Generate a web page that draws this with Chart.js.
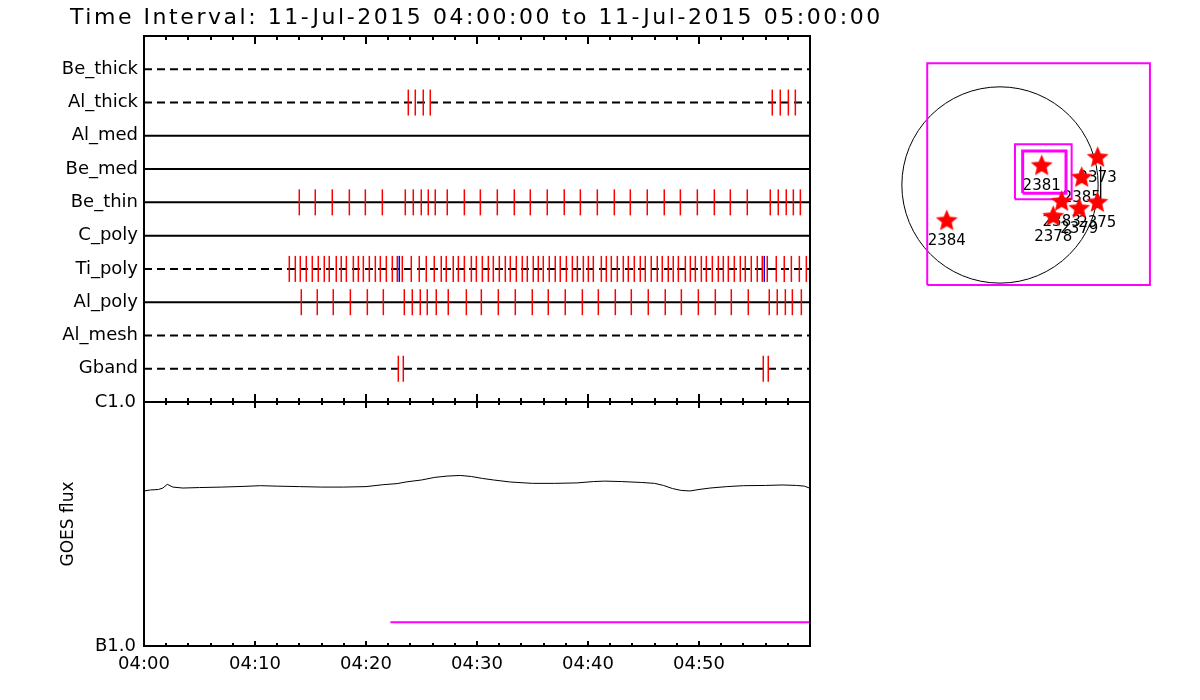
<!DOCTYPE html>
<html>
<head>
<meta charset="utf-8">
<title>Time Interval: 11-Jul-2015 04:00:00 to 11-Jul-2015 05:00:00</title>
<script src="https://cdn.jsdelivr.net/npm/chart.js@4.4.1/dist/chart.umd.min.js"></script>
<style>
  html, body { margin: 0; padding: 0; background: #fff; }
  #wrap { position: relative; width: 1200px; height: 700px; overflow: hidden; background: #fff; }
  canvas { position: absolute; }
  #panelRows { left: 0; top: 0; }
  #panelGoes { left: 0; top: 380px; }
  #panelMap { left: 890px; top: 50px; }
</style>
</head>
<body>
<div id="wrap">
  <canvas id="panelRows" width="900" height="410"></canvas>
  <canvas id="panelGoes" width="830" height="320"></canvas>
  <canvas id="panelMap" width="280" height="250"></canvas>
</div>
<script>
const titleText = 'Time Interval: 11-Jul-2015 04:00:00 to 11-Jul-2015 05:00:00';
const rowNames = ['Be_thick', 'Al_thick', 'Al_med', 'Be_med', 'Be_thin', 'C_poly', 'Ti_poly', 'Al_poly', 'Al_mesh', 'Gband'];

// event times, minutes after 04:00
const alThickTimes = [23.81, 24.44, 25.16, 25.79, 56.60, 57.32, 58.05, 58.68];
const beThinTimes = [13.99, 15.43, 16.96, 18.50, 19.94, 21.47, 23.54, 24.26, 24.98, 25.61, 26.24, 27.32,
  28.86, 30.30, 31.83, 33.36, 34.80, 36.33, 37.86, 39.31, 40.84, 42.37, 43.81, 45.34, 46.87, 48.32,
  49.85, 51.38, 52.82, 54.35, 56.42, 57.14, 57.86, 58.50, 59.13];
const tiPolyTimes = [13.09, 13.63, 14.08, 14.62, 15.16, 15.70, 16.24, 16.69, 17.32, 17.77, 18.23, 18.86,
  19.31, 19.76, 20.30, 20.84, 21.29, 21.83, 22.37, 22.82, 23.27, 24.08, 24.80, 25.43, 26.15, 26.78,
  27.23, 27.86, 28.32, 28.86, 29.49, 29.94, 30.48, 31.02, 31.47, 32.01, 32.55, 33.00, 33.54, 34.08,
  34.53, 35.07, 35.52, 35.97, 36.51, 37.05, 37.50, 38.05, 38.59, 39.04, 39.58, 40.03, 40.48, 41.20,
  41.65, 42.10, 42.64, 43.18, 43.63, 44.17, 44.71, 45.16, 45.70, 46.24, 46.69, 47.23, 47.68, 48.14,
  48.77, 49.22, 49.67, 50.21, 50.66, 51.20, 51.74, 52.19, 52.64, 53.18, 53.72, 54.17, 54.71, 55.25,
  55.70, 56.15, 56.96, 57.68, 58.32, 59.04, 59.67];
const tiPolyBlueTimes = [23.00, 55.88];
const alPolyTimes = [14.17, 15.61, 17.05, 18.59, 20.12, 21.56, 23.45, 24.17, 24.89, 25.52, 26.33, 27.41,
  29.04, 30.39, 31.92, 33.45, 34.98, 36.42, 37.95, 39.49, 40.93, 42.46, 43.90, 45.43, 46.96, 48.41,
  49.94, 51.47, 52.91, 54.44, 56.33, 57.05, 57.78, 58.41, 59.22];
const gbandTimes = [22.91, 23.36, 55.79, 56.24];

// GOES flux (W/m^2)
const goesMinutes = [0, 0.6, 1.3, 1.7, 2.1, 2.6, 3.5, 5, 7, 9, 10.5, 12, 14, 16, 18, 20, 21.5, 22.8,
  23.7, 25, 26.2, 27.3, 28.5, 29.5, 30.5, 31.5, 33, 35, 37, 39, 40.5, 41.5, 43, 44.8, 46, 46.8, 47.6,
  48.4, 49.2, 50, 51, 52.5, 54, 56, 57.5, 58.8, 59.5, 60];
const goesFlux = [4.32e-7, 4.36e-7, 4.38e-7, 4.44e-7, 4.60e-7, 4.48e-7, 4.44e-7, 4.46e-7, 4.48e-7,
  4.51e-7, 4.54e-7, 4.52e-7, 4.50e-7, 4.48e-7, 4.48e-7, 4.50e-7, 4.58e-7, 4.63e-7, 4.71e-7, 4.79e-7,
  4.91e-7, 4.97e-7, 5.00e-7, 4.95e-7, 4.86e-7, 4.79e-7, 4.70e-7, 4.64e-7, 4.64e-7, 4.66e-7, 4.72e-7,
  4.74e-7, 4.72e-7, 4.68e-7, 4.64e-7, 4.55e-7, 4.42e-7, 4.34e-7, 4.32e-7, 4.38e-7, 4.44e-7, 4.50e-7,
  4.54e-7, 4.55e-7, 4.57e-7, 4.55e-7, 4.52e-7, 4.43e-7];
const barMinutes = [22.2, 60];
const barFlux = [1.25e-7, 1.25e-7];

// active regions, arcsec from disk centre
const arNames = ['2381', '2373', '2385', '2375', '2379', '2383', '2378', '2384'];
const arX = [401, 939, 786, 936, 762, 593, 512, -512];
const arY = [183, 262, 70, -170, -228, -161, -305, -346];
const sunRadius = 944;
const fovOuter = [-700, -962, 1442, 1170];
const fovMid = [144, -138, 689, 391];
const fovInner = [218, -80, 635, 327];
const markX = [968, 968];
const markY = [177, -176];

Chart.defaults.font.family = "'DejaVu Sans'";
Chart.defaults.color = '#000';

const dashedRows = ['Be_thick', 'Al_thick', 'Ti_poly', 'Al_mesh', 'Gband'];
const rowOf = name => rowNames.indexOf(name) + 1;

function eventMarks(times, name, color) {
  return {
    data: times.map(t => ({x: t, y: rowOf(name)})),
    pointStyle: 'line',
    pointRotation: 90,
    pointRadius: 13,
    pointBorderColor: color,
    pointBackgroundColor: color,
    pointBorderWidth: 1.5
  };
}

function boxPath(b) {
  return [{x: b[0], y: b[1]}, {x: b[2], y: b[1]}, {x: b[2], y: b[3]}, {x: b[0], y: b[3]}, {x: b[0], y: b[1]}];
}

function starImage(r, color) {
  const c = document.createElement('canvas');
  const s = Math.ceil(r * 2 + 2);
  c.width = c.height = s;
  const g = c.getContext('2d');
  g.fillStyle = color;
  g.beginPath();
  for (let k = 0; k < 10; k++) {
    const rr = k % 2 ? r * 0.45 : r;
    const ang = -Math.PI / 2 + k * Math.PI / 5;
    g.lineTo(s / 2 + rr * Math.cos(ang), s / 2 + rr * Math.sin(ang));
  }
  g.closePath();
  g.fill();
  return c;
}

// box + inward tick marks, IDL style
const frameTicks = {
  id: 'frameTicks',
  afterDraw(chart, args, o) {
    const {ctx, chartArea: a} = chart;
    const x = chart.scales.x;
    ctx.save();
    ctx.strokeStyle = '#000';
    ctx.lineWidth = 2;
    ctx.beginPath();
    for (let m = x.min + 2; m < x.max; m += 2) {
      const px = Math.round(x.getPixelForValue(m));
      const big = m % 10 === 0;
      ctx.moveTo(px, a.top);
      ctx.lineTo(px, a.top + (big ? o.top[1] : o.top[0]));
      ctx.moveTo(px, a.bottom);
      ctx.lineTo(px, a.bottom - (big ? o.bottom[1] : o.bottom[0]));
    }
    ctx.stroke();
    if (o.logTicks) {
      const y = chart.scales.y;
      ctx.lineWidth = 1;
      ctx.beginPath();
      y.ticks.forEach(t => {
        if (t.value <= y.min * 1.001 || t.value >= y.max * 0.999) return;
        const py = Math.round(y.getPixelForValue(t.value)) + 0.5;
        ctx.moveTo(a.left, py);
        ctx.lineTo(a.left + 8, py);
        ctx.moveTo(a.right, py);
        ctx.lineTo(a.right - 7, py);
      });
      ctx.stroke();
    }
    ctx.lineWidth = 2;
    ctx.strokeRect(a.left, a.top, a.right - a.left, a.bottom - a.top);
    ctx.restore();
  }
};

const topTitle = {
  id: 'topTitle',
  afterDraw(chart, args, o) {
    const ctx = chart.ctx;
    ctx.save();
    ctx.font = "22px 'DejaVu Sans'";
    ctx.fillStyle = '#000';
    ctx.textAlign = 'left';
    ctx.textBaseline = 'alphabetic';
    const plain = ctx.measureText(o.text).width;
    if ('letterSpacing' in ctx) {
      ctx.letterSpacing = ((o.width - plain) / o.text.length).toFixed(2) + 'px';
    }
    ctx.fillText(o.text, o.x, o.y);
    ctx.restore();
  }
};

const sunAndLabels = {
  id: 'sunAndLabels',
  beforeDatasetsDraw(chart) {
    const {ctx, scales: {x, y}} = chart;
    const cx = x.getPixelForValue(0);
    const cy = y.getPixelForValue(0);
    const r = x.getPixelForValue(sunRadius) - cx;
    ctx.save();
    ctx.strokeStyle = '#000';
    ctx.lineWidth = 1;
    ctx.beginPath();
    ctx.arc(cx, cy, r, 0, 2 * Math.PI);
    ctx.stroke();
    ctx.font = "15px 'DejaVu Sans'";
    ctx.fillStyle = '#000';
    ctx.textAlign = 'center';
    ctx.textBaseline = 'middle';
    arNames.forEach((n, i) => {
      ctx.fillText(n, x.getPixelForValue(arX[i]), y.getPixelForValue(arY[i]) + 20);
    });
    ctx.restore();
  }
};

// top panel: attenuator / detector event rows
const rowLines = rowNames.map((name, i) => ({
  data: [{x: 0, y: i + 1}, {x: 60, y: i + 1}],
  showLine: true,
  borderColor: '#000',
  borderWidth: 2,
  borderDash: dashedRows.includes(name) ? [8, 5] : [],
  pointRadius: 0
}));

new Chart(document.getElementById('panelRows'), {
  type: 'scatter',
  data: {
    datasets: [
      eventMarks(tiPolyBlueTimes, 'Ti_poly', '#0000ff'),
      eventMarks(alThickTimes, 'Al_thick', '#ff0000'),
      eventMarks(beThinTimes, 'Be_thin', '#ff0000'),
      eventMarks(tiPolyTimes, 'Ti_poly', '#ff0000'),
      eventMarks(alPolyTimes, 'Al_poly', '#ff0000'),
      eventMarks(gbandTimes, 'Gband', '#ff0000'),
      ...rowLines
    ]
  },
  options: {
    animation: false,
    responsive: false,
    layout: {autoPadding: false, padding: {top: 36, right: 90, bottom: 8, left: 0}},
    plugins: {
      legend: {display: false},
      tooltip: {enabled: false},
      frameTicks: {top: [4, 8], bottom: [4, 8]},
      topTitle: {text: titleText, x: 70, y: 24, width: 813}
    },
    scales: {
      x: {type: 'linear', min: 0, max: 60, display: false},
      y: {
        min: 0, max: 11, reverse: true,
        grid: {display: false, drawTicks: false},
        border: {display: false},
        ticks: {
          stepSize: 1, autoSkip: false, padding: 6, color: '#000', font: {size: 18},
          callback: v => rowNames[v - 1] ?? null
        },
        afterFit: s => { s.width = 144; s.paddingTop = 0; s.paddingBottom = 0; }
      }
    }
  },
  plugins: [frameTicks, topTitle]
});

// GOES panel
new Chart(document.getElementById('panelGoes'), {
  type: 'scatter',
  data: {
    datasets: [
      {
        data: goesMinutes.map((m, i) => ({x: m, y: goesFlux[i]})),
        showLine: true, borderColor: '#000', borderWidth: 1, pointRadius: 0
      },
      {
        data: barMinutes.map((m, i) => ({x: m, y: barFlux[i]})),
        showLine: true, borderColor: '#ff00ff', borderWidth: 2, pointRadius: 0
      }
    ]
  },
  options: {
    animation: false,
    responsive: false,
    layout: {padding: {top: 22, right: 20, bottom: 14, left: 0}},
    plugins: {
      legend: {display: false},
      tooltip: {enabled: false},
      frameTicks: {top: [3, 6], bottom: [3, 5], logTicks: true}
    },
    scales: {
      x: {
        type: 'linear', min: 0, max: 60,
        grid: {display: false, drawTicks: false},
        border: {display: false},
        ticks: {
          stepSize: 2, autoSkip: false, maxRotation: 0, padding: 8, color: '#000', font: {size: 18},
          callback: v => (v % 10 === 0 && v < 60) ? '04:' + String(v).padStart(2, '0') : null
        },
        afterFit: s => { s.height = 40; }
      },
      y: {
        type: 'logarithmic', min: 1e-7, max: 1e-6,
        grid: {display: false, drawTicks: false},
        border: {display: false},
        ticks: {
          autoSkip: false, padding: 8, color: '#000', font: {size: 18},
          callback: v => {
            const e = Math.log10(v);
            if (Math.abs(e + 6) < 0.01) return 'C1.0';
            if (Math.abs(e + 7) < 0.01) return 'B1.0';
            return null;
          }
        },
        title: {display: true, text: 'GOES flux', color: '#000', font: {size: 17}, padding: {top: 58, bottom: 0}},
        afterFit: s => { s.width = 144; }
      }
    }
  },
  plugins: [frameTicks]
});

// disk map
new Chart(document.getElementById('panelMap'), {
  type: 'scatter',
  data: {
    datasets: [
      {
        data: arX.map((x, i) => ({x: x, y: arY[i]})),
        pointStyle: starImage(11.5, '#ff0000'),
        pointRadius: 12
      },
      {data: markX.map((x, i) => ({x: x, y: markY[i]})), showLine: true, borderColor: '#000', borderWidth: 1, pointRadius: 0},
      {data: boxPath(fovInner), showLine: true, borderColor: '#ff00ff', borderWidth: 3, pointRadius: 0},
      {data: boxPath(fovMid), showLine: true, borderColor: '#ff00ff', borderWidth: 2, pointRadius: 0},
      {data: boxPath(fovOuter), showLine: true, borderColor: '#ff00ff', borderWidth: 2, pointRadius: 0}
    ]
  },
  options: {
    animation: false,
    responsive: false,
    layout: {autoPadding: false, padding: 0},
    plugins: {legend: {display: false}, tooltip: {enabled: false}},
    scales: {
      x: {type: 'linear', display: false, min: -1058, max: 1635},
      y: {type: 'linear', display: false, min: -1106, max: 1298}
    }
  },
  plugins: [sunAndLabels]
});
</script>
</body>
</html>
